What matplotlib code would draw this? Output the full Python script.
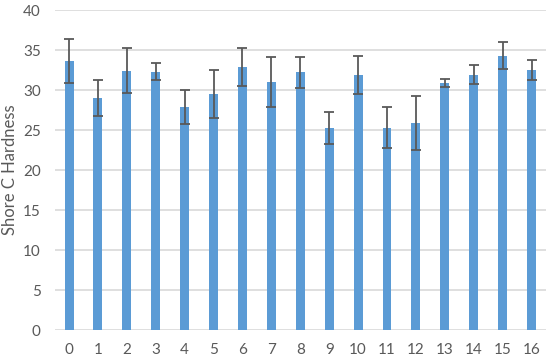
import matplotlib
matplotlib.use("Agg")
import matplotlib.pyplot as plt
import numpy as np

samples = [str(i) for i in range(17)]
hardness = [33.6, 29.0, 32.4, 32.3, 27.9, 29.5, 32.9, 31.0, 32.2, 25.3, 31.9, 25.3, 25.9, 30.9, 31.9, 34.3, 32.5]
hardness_err = [2.75, 2.3, 2.8, 1.1, 2.1, 2.95, 2.35, 3.1, 1.9, 2.0, 2.4, 2.6, 3.4, 0.5, 1.2, 1.7, 1.25]

plt.rcParams["font.family"] = ["Lato", "DejaVu Sans"]

fig = plt.figure(figsize=(5.5, 3.6), dpi=100)
ax = fig.add_axes([54.6 / 550, 30 / 360, (546 - 54.6) / 550, 320 / 360])

x = np.arange(len(samples))
ax.bar(x, hardness, width=0.31, color="#5B9BD5", zorder=2)
ax.errorbar(x, hardness, yerr=hardness_err, fmt="none", ecolor="#595959",
            elinewidth=1.3, capsize=3.5, capthick=1.3, zorder=3)

ax.set_xlim(-0.5, len(samples) - 0.5)
ax.set_ylim(0, 40)
ax.set_yticks(range(0, 41, 5))
ax.set_xticks(x)
ax.set_xticklabels(samples)
ax.yaxis.grid(True, color="#D9D9D9", linewidth=1.2, zorder=0)
ax.set_axisbelow(True)
for s in ax.spines.values():
    s.set_visible(False)
ax.tick_params(length=0, colors="#595959", labelsize=11)
ax.tick_params(axis="x", pad=9)
ax.tick_params(axis="y", pad=10)
ax.set_ylabel("Shore C Hardness", color="#595959", fontsize=12)
ax.yaxis.set_label_coords(-37 / 491.4, 0.5)

fig.savefig("out.png", dpi=100)
